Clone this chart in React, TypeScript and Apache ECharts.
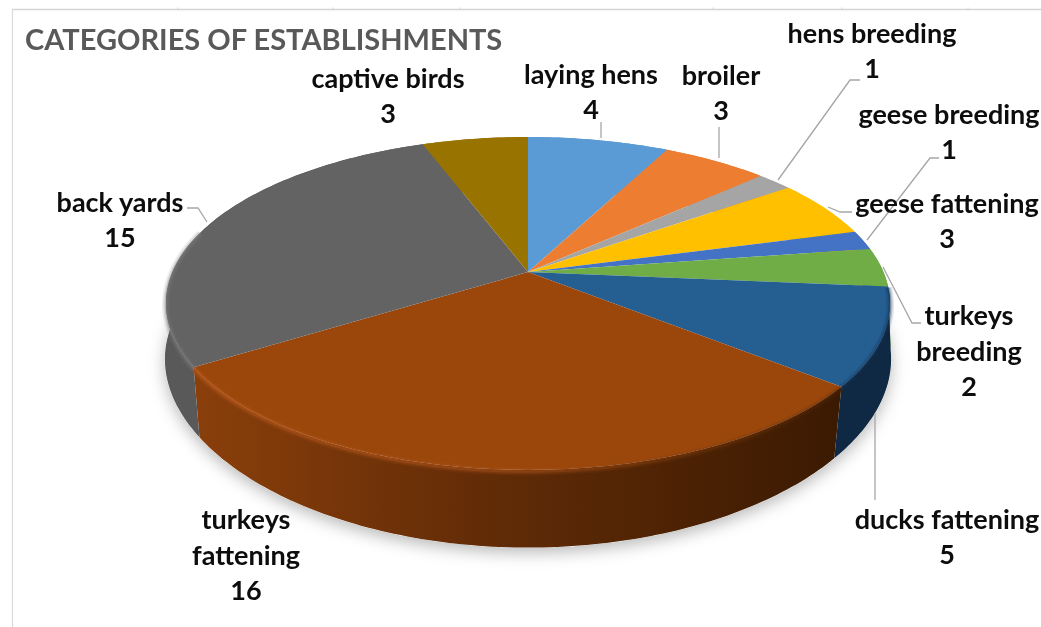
import React, { useEffect, useRef } from "react";
import * as echarts from "echarts";

// Data, clockwise from twelve o'clock
const categories = [
  "laying hens", "broiler", "hens breeding", "geese fattening", "geese breeding",
  "turkeys breeding", "ducks fattening", "turkeys fattening", "back yards", "captive birds",
];
const values = [4, 3, 1, 3, 1, 2, 5, 16, 15, 3];
const colors = [
  "#5b9bd5", "#ed7d31", "#a5a5a5", "#ffc000", "#4472c4",
  "#70ad47", "#255e91", "#9b470c", "#636363", "#997300",
];
const wrappedNames: Record<string, string> = {
  "turkeys breeding": "turkeys\nbreeding",
  "turkeys fattening": "turkeys\nfattening",
};
const titleText = "CATEGORIES OF ESTABLISHMENTS";

// Layout, separate from the data: label centre and leader line for each category
const labelCentres = [
  [591, 91], [721, 92], [872, 50], [947, 220], [949, 131],
  [969, 350], [947, 536], [246, 554], [120, 219], [388, 95],
];
const leaders: number[][][] = [
  [[601, 122], [601, 138]],
  [[719, 127], [719, 158]],
  [[860, 80], [850, 80], [778, 180]],
  [[852, 212], [840, 212], [828, 207]],
  [[939, 158], [930, 158], [867, 240]],
  [[883, 267], [912, 323], [921, 323]],
  [[875, 413], [875, 500]],
  [],
  [[187, 208], [198, 208], [207, 222]],
  [],
];
const topTicks = [178, 333, 460, 713, 842, 968];

// Perspective projection of the pie disc
const CX = 528, CY = 272, A = 355.5, B = 160.5, K = 0.189, H = 63;
const total = values.reduce((a, b) => a + b, 0);
const project = (deg: number, wall = 0) => {
  const t = (deg * Math.PI) / 180;
  const u = Math.sin(t), v = -Math.cos(t), d = 1 - K * v;
  const spread = 1 - wall * (0.055 * v - 0.012);
  return [CX + ((A * u) / d) * spread, CY + (B * v) / d + (wall * H) / d];
};
const arc = (from: number, to: number, wall = 0) => {
  const pts: number[][] = [];
  const n = Math.max(2, Math.ceil(Math.abs(to - from)));
  for (let i = 0; i <= n; i++) pts.push(project(from + ((to - from) * i) / n, wall));
  return pts;
};
const span = (i: number) => {
  const before = values.slice(0, i).reduce((a, b) => a + b, 0);
  return [(before / total) * 360, ((before + values[i]) / total) * 360];
};

const wallFill = (i: number): any => {
  if (i === 7) {
    return new echarts.graphic.LinearGradient(195, 0, 838, 0, [
      { offset: 0, color: "#8a3f0b" },
      { offset: 0.45, color: "#622c07" },
      { offset: 1, color: "#3b1a02" },
    ], true);
  }
  if (i === 6) return "#0f2843";
  if (i === 8) return "#595959";
  return colors[i];
};
const rimStroke = (i: number): any => {
  if (i === 7) {
    return new echarts.graphic.LinearGradient(195, 0, 838, 0, [
      { offset: 0, color: "#c05c1e" },
      { offset: 0.5, color: "#b0541a" },
      { offset: 0.8, color: "#703308" },
      { offset: 1, color: "#4a2205" },
    ], true);
  }
  if (i === 6) return "#123050";
  if (i === 8) return "#7c7c7c";
  return null;
};

const wallItem = (params: any) => {
  const i = params.dataIndex;
  const [a, b] = span(i);
  const children: any[] = [];
  if (i === 0) {
    children.push({
      type: "polygon",
      shape: { points: arc(0, 360, 1) },
      style: { fill: "#ffffff", shadowBlur: 16, shadowColor: "rgba(0,0,0,0.28)", shadowOffsetY: 5 },
    });
  }
  children.push({
    type: "polygon",
    shape: { points: [...arc(a, b, 0), ...arc(b, a, 1)] },
    style: { fill: wallFill(i) },
  });
  return { type: "group", children };
};

const topItem = (params: any) => {
  const i = params.dataIndex;
  const [a, b] = span(i);
  const name = categories[i];
  const value = values[i];
  const children: any[] = [
    {
      type: "polygon",
      shape: { points: [[CX, CY], ...arc(a, b, 0)] },
      style: { fill: colors[i] },
    },
  ];
  const rim = rimStroke(i);
  if (rim) {
    // the highlight exists on the visible front edge only
    const end = i === 8 ? Math.min(b, 285) : b;
    [[8, 0.12], [5, 0.2], [2.5, 0.35]].forEach(([lineWidth, opacity]) => {
      children.push({
        type: "polyline",
        shape: { points: arc(a, end, 0.02) },
        style: { stroke: rim, lineWidth, opacity, fill: "none" },
      });
    });
  }
  if (leaders[i].length) {
    children.push({
      type: "polyline",
      shape: { points: leaders[i] },
      style: { stroke: "#a6a6a6", lineWidth: 1.3, fill: "none" },
    });
  }
  children.push({
    type: "text",
    x: labelCentres[i][0],
    y: labelCentres[i][1],
    z2: 5,
    style: {
      text: `${wrappedNames[name] ?? name}\n${value}`,
      fill: "#0d0d0d",
      font: '700 27px Lato, "Noto Sans", sans-serif',
      lineHeight: 35.5,
      align: "center",
      verticalAlign: "middle",
    },
  });
  return { type: "group", children };
};

const frame: any[] = [
  { type: "line", shape: { x1: 12, y1: 9.5, x2: 1041, y2: 9.5 }, style: { stroke: "#d4d4d4", lineWidth: 1.5 } },
  { type: "line", shape: { x1: 12.5, y1: 9, x2: 12.5, y2: 627 }, style: { stroke: "#d9d9d9", lineWidth: 1.2 } },
  ...topTicks.map((x) => ({
    type: "line",
    shape: { x1: x, y1: 7.5, x2: x, y2: 9.5 },
    style: { stroke: "#d4d4d4", lineWidth: 1 },
  })),
];

export default function App() {
  const ref = useRef<HTMLDivElement>(null);
  useEffect(() => {
    const chart = echarts.init(ref.current!, null, { renderer: "svg" });
    const data = categories.map((name, i) => ({ name, value: values[i] }));
    chart.setOption({
      animation: false,
      backgroundColor: "#ffffff",
      title: {
        text: titleText,
        left: 25,
        top: 24,
        padding: 0,
        textStyle: { color: "#595959", fontFamily: 'Lato, "Noto Sans", sans-serif', fontWeight: 700, fontSize: 29 },
      },
      graphic: frame,
      series: [
        { type: "custom", coordinateSystem: "none", renderItem: wallItem, data, z: 1, silent: true },
        { type: "custom", coordinateSystem: "none", renderItem: topItem, data, z: 2, silent: true },
      ],
    });
    return () => chart.dispose();
  }, []);
  return (
    <div
      ref={ref}
      style={{ position: "fixed", left: 0, top: 0, width: 1041, height: 627, overflow: "hidden", filter: "blur(0.45px)" }}
    />
  );
}
